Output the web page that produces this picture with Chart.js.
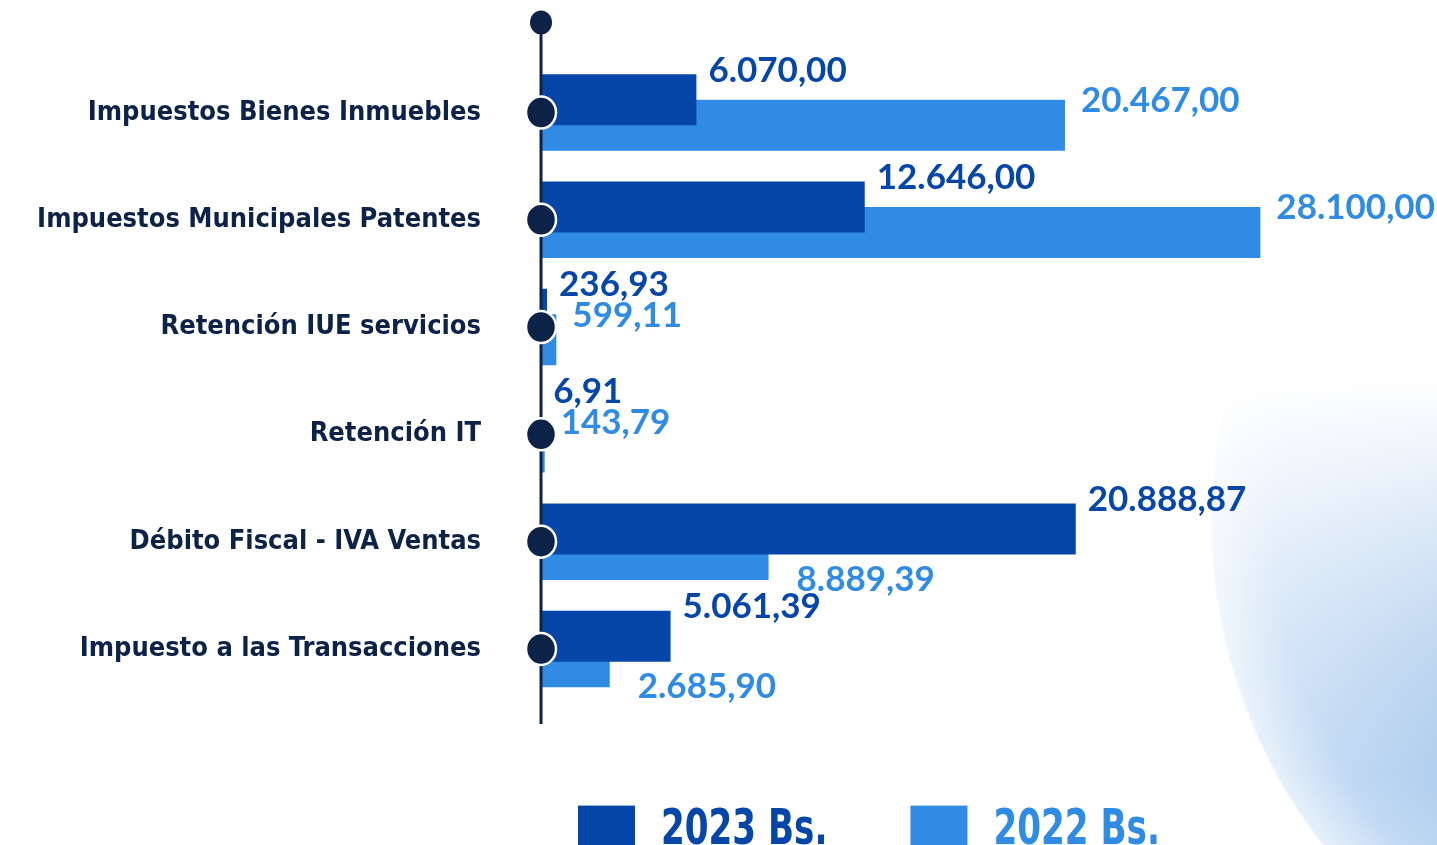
<!DOCTYPE html>
<html>
<head>
<meta charset="utf-8">
<title>Impuestos 2023 vs 2022</title>
<script src="https://cdn.jsdelivr.net/npm/chart.js@4.4.0/dist/chart.umd.min.js"></script>
<style>
    html, body {
        margin: 0;
        padding: 0;
        overflow: hidden;
    }
    body {
        width: 1437px;
        height: 845px;
        background:
            linear-gradient(to bottom, #ffffff 45%, rgba(255, 255, 255, 0) 92%),
            radial-gradient(circle 530px at 1740px 520px, rgba(70, 135, 205, 0.85) 0%, rgba(150, 190, 235, 0.6) 88%, rgba(205, 225, 245, 0.5) 99.5%, rgba(255, 255, 255, 0) 100%),
            #ffffff;
    }
    canvas {
        display: block;
    }
</style>
</head>
<body>
<canvas id="taxChart" width="1437" height="845"></canvas>
<script>
// Data
const categories = [
    'Impuestos Bienes Inmuebles',
    'Impuestos Municipales Patentes',
    'Retención IUE servicios',
    'Retención IT',
    'Débito Fiscal - IVA Ventas',
    'Impuesto a las Transacciones'
];
const values2023 = [6070.00, 12646.00, 236.93, 6.91, 20888.87, 5061.39];
const values2022 = [20467.00, 28100.00, 599.11, 143.79, 8889.39, 2685.90];
const seriesLabels = ['2023 Bs.', '2022 Bs.'];

// Colours and fonts
const DARK_BLUE = '#0646a8';
const LIGHT_BLUE = '#2f8be4';
const NAVY = '#0c2246';
const NARROW_FONT = "'DejaVu Sans Condensed', 'Liberation Sans Narrow', sans-serif";
const VALUE_FONT = "bold 35px Lato, 'Open Sans', sans-serif";
const SERIES_COLORS = [DARK_BLUE, LIGHT_BLUE];

// 6070 -> "6.070,00"
function formatBs(n) {
    const parts = n.toFixed(2).split('.');
    const intPart = parts[0].replace(/\B(?=(\d{3})+(?!\d))/g, '.');
    return intPart + ',' + parts[1];
}

// vertical timeline line with dots at every category
const timelinePlugin = {
    id: 'timeline',
    afterDatasetsDraw(chart) {
        const ctx = chart.ctx;
        const x0 = chart.scales.x.getPixelForValue(0);
        const yScale = chart.scales.y;
        const firstY = yScale.getPixelForValue(0);
        const lastY = yScale.getPixelForValue(categories.length - 1);

        ctx.save();
        ctx.strokeStyle = NAVY;
        ctx.lineWidth = 3;
        ctx.beginPath();
        ctx.moveTo(x0, firstY - 90);
        ctx.lineTo(x0, lastY + 75);
        ctx.stroke();

        ctx.fillStyle = NAVY;
        ctx.beginPath();
        ctx.ellipse(x0, firstY - 90, 11, 12, 0, 0, Math.PI * 2);
        ctx.fill();

        categories.forEach((cat, i) => {
            const y = yScale.getPixelForValue(i);
            ctx.beginPath();
            ctx.ellipse(x0, y, 15, 16, 0, 0, Math.PI * 2);
            ctx.fillStyle = NAVY;
            ctx.fill();
            ctx.lineWidth = 2.5;
            ctx.strokeStyle = '#ffffff';
            ctx.stroke();
        });
        ctx.restore();
    }
};

// value labels next to the bar ends
const valueLabelPlugin = {
    id: 'valueLabels',
    afterDatasetsDraw(chart) {
        const ctx = chart.ctx;
        const darkBars = chart.getDatasetMeta(0).data;
        const lightBars = chart.getDatasetMeta(1).data;

        ctx.save();
        ctx.font = VALUE_FONT;
        ctx.textAlign = 'left';
        ctx.textBaseline = 'middle';

        darkBars.forEach((bar, i) => {
            const top = bar.y - bar.height / 2;
            ctx.fillStyle = DARK_BLUE;
            ctx.fillText(formatBs(values2023[i]), bar.x + 12, top - 4);
        });

        lightBars.forEach((bar, i) => {
            const top = bar.y - bar.height / 2;
            const bottom = bar.y + bar.height / 2;
            // label goes above when the 2022 bar sticks out past the 2023 one
            const above = values2022[i] >= values2023[i];
            ctx.fillStyle = LIGHT_BLUE;
            ctx.fillText(formatBs(values2022[i]), bar.x + (above ? 16 : 28), above ? top + 1 : bottom);
        });
        ctx.restore();
    }
};

// legend under the chart, condensed text
const legendPlugin = {
    id: 'bottomLegend',
    afterDraw(chart) {
        const ctx = chart.ctx;
        const area = chart.chartArea;
        let x = area.left + 37;
        const boxTop = area.bottom + 103;
        const baseline = area.bottom + 141;

        ctx.save();
        ctx.font = "bold 50px " + NARROW_FONT;
        ctx.textBaseline = 'alphabetic';
        seriesLabels.forEach((label, i) => {
            ctx.fillStyle = SERIES_COLORS[i];
            ctx.fillRect(x, boxTop, 57, 45);
            x += 57 + 26;
            const squeeze = 0.76;
            ctx.save();
            ctx.translate(x, baseline);
            ctx.scale(squeeze, 1);
            ctx.fillText(label, 0, 0);
            ctx.restore();
            x += ctx.measureText(label).width * squeeze + 83;
        });
        ctx.restore();
    }
};

const ctx = document.getElementById('taxChart').getContext('2d');
new Chart(ctx, {
    type: 'bar',
    data: {
        labels: categories,
        datasets: [
            {
                label: seriesLabels[0],
                data: values2023,
                backgroundColor: DARK_BLUE,
                categoryPercentage: 0.475,
                barPercentage: 2.0
            },
            {
                label: seriesLabels[1],
                data: values2022,
                backgroundColor: LIGHT_BLUE,
                categoryPercentage: 0.475,
                barPercentage: 2.0
            }
        ]
    },
    options: {
        indexAxis: 'y',
        responsive: false,
        animation: false,
        layout: {
            padding: { top: 58.85, left: 0, right: 0, bottom: 142.4 }
        },
        plugins: {
            tooltip: { enabled: false },
            legend: { display: false }
        },
        scales: {
            x: {
                display: false,
                min: 0,
                max: 35000
            },
            y: {
                grid: { display: false },
                border: { display: false },
                ticks: {
                    color: NAVY,
                    padding: 52,
                    font: { family: NARROW_FONT, size: 27, weight: 'bold' }
                },
                afterFit(scale) {
                    scale.width = 541;
                    scale.paddingTop = 0;
                    scale.paddingBottom = 0;
                }
            }
        }
    },
    plugins: [timelinePlugin, valueLabelPlugin, legendPlugin]
});
</script>
</body>
</html>
